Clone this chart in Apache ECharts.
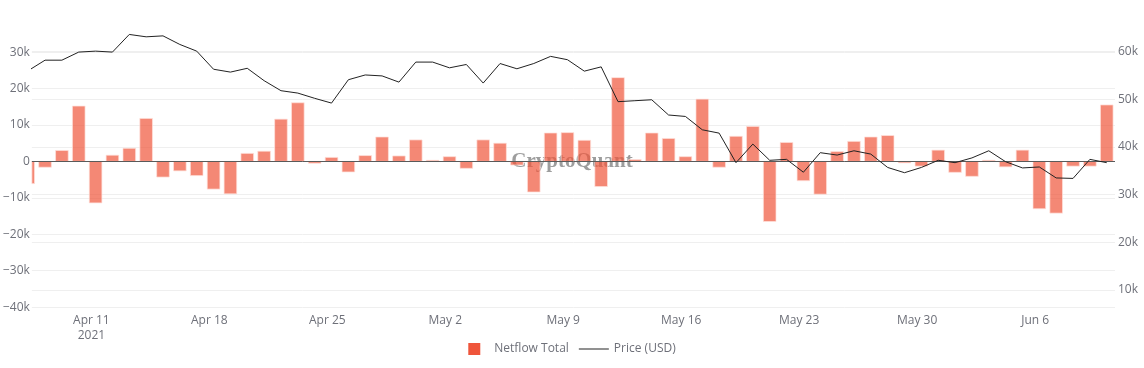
<!DOCTYPE html>
<html><head><meta charset="utf-8">
<script src="https://cdn.jsdelivr.net/npm/echarts@6/dist/echarts.min.js"></script>
<style>html,body{margin:0;padding:0;background:#fff}#c{width:1144px;height:368px}</style>
</head><body><div id="c"></div>
<script>
// ---- data ----
const startDate = '2021-04-07';
const netflow = [
  -6100, -1600, 3000, 15200, -11400, 1700, 3600, 11800, -4300, -2600,
  -3900, -7600, -8900, 2200, 2800, 11600, 16100, -500, 1100, -2900,
  1600, 6700, 1500, 5900, 300, 1300, -1900, 5900, 5000, -1000,
  -8400, 7800, 7900, 5800, -6900, 23000, 500, 7800, 6300, 1300,
  17100, -1600, 6900, 9600, -16500, 5200, -5300, -9000, 2700, 5500,
  6700, 7100, -400, -1300, 3100, -3000, -4100, 300, -1500, 3100,
  -13000, -14200, -1300, -1300, 15500
];
const price = [
  56000, 58200, 58200, 59900, 60100, 59900, 63600, 63100, 63300, 61500,
  60100, 56300, 55700, 56500, 53900, 51800, 51300, 50200, 49200, 54100,
  55100, 54900, 53600, 57800, 57800, 56600, 57300, 53400, 57500, 56400,
  57500, 59000, 58300, 55900, 56800, 49500, 49700, 49900, 46700, 46400,
  43600, 42900, 36700, 40600, 37200, 37400, 34700, 38800, 38300, 39200,
  38500, 35700, 34600, 35700, 37200, 36700, 37700, 39200, 36900, 35600,
  35800, 33500, 33400, 37400, 36700
];
const leftTicks = [-40000, -30000, -20000, -10000, 0, 10000, 20000, 30000];
const rightTicks = [10000, 20000, 30000, 40000, 50000, 60000];
const xTickDates = ['2021-04-11', '2021-04-18', '2021-04-25', '2021-05-02', '2021-05-09', '2021-05-16', '2021-05-23', '2021-05-30', '2021-06-06'];
const seriesNames = ['Netflow Total', 'Price (USD)'];

// ---- helpers ----
function mkDate(s, add) { const p = s.split('-').map(Number); return new Date(p[0], p[1] - 1, p[2] + (add || 0)); }
function key(d) { return d.getFullYear() + '-' + String(d.getMonth() + 1).padStart(2, '0') + '-' + String(d.getDate()).padStart(2, '0'); }
const dates = netflow.map((_, i) => mkDate(startDate, i));
const dateKeys = dates.map(key);
const xTickIdx = xTickDates.map(s => dateKeys.indexOf(s));
// date ticks sit at midnight; daily marks are drawn a quarter day later (as in the source chart)
const TICK_SHIFT = 0.25;
const xTickPos = xTickIdx.map(i => i - TICK_SHIFT);
const months = ['Jan','Feb','Mar','Apr','May','Jun','Jul','Aug','Sep','Oct','Nov','Dec'];
function kFmt(v) { if (v === 0) return '0'; const s = Math.abs(v / 1000) + 'k'; return v < 0 ? '\u2212' + s : s; }
const labelColor = '#6e7079';
const gridColor = '#efefef';
const font = '"Open Sans", sans-serif';

function renderBar(params, api) {
  const i = api.value(0), v = api.value(1);
  const top = api.coord([i, v]);
  const base = api.coord([i, 0]);
  const w = api.size([1, 0])[0] * 0.75;
  const cs = params.coordSys;
  const shape = echarts.graphic.clipRectByRect(
    { x: top[0] - w / 2, y: Math.min(top[1], base[1]), width: w, height: Math.abs(base[1] - top[1]) },
    { x: cs.x, y: cs.y, width: cs.width, height: cs.height });
  if (!shape) return null;
  return { type: 'rect', shape: shape,
    style: { fill: 'rgba(239,85,59,0.7)', stroke: 'rgba(255,225,220,0.7)', lineWidth: 1 } };
}

const chart = echarts.init(document.getElementById('c'), null, { renderer: 'canvas' });
chart.setOption({
  animation: false,
  backgroundColor: '#fff',
  textStyle: { fontFamily: font },
  grid: { left: 30, right: 29, top: 23, bottom: 58, containLabel: false },
  xAxis: {
    type: 'value',
    min: 0.22,
    max: dates.length - 1 + 0.49,
    axisLine: { show: false },
    axisTick: { show: false, customValues: xTickPos },
    splitLine: { show: false },
    axisLabel: {
      customValues: xTickPos,
      color: labelColor, fontSize: 12, fontFamily: font, margin: 3, lineHeight: 15,
      formatter: function (v) {
        const idx = Math.round(v + TICK_SHIFT);
        const d = dates[idx];
        let s = months[d.getMonth()] + ' ' + d.getDate();
        if (idx === xTickIdx[0]) s += '\n' + d.getFullYear();
        return s;
      }
    }
  },
  yAxis: [
    {
      type: 'value', position: 'left', min: -40800, max: 38000,
      axisLine: { show: false },
      axisTick: { show: false, customValues: leftTicks },
      splitLine: { show: true, lineStyle: { color: gridColor, width: 1 } },
      axisLabel: { customValues: leftTicks, formatter: kFmt, color: labelColor, fontSize: 12, fontFamily: font, margin: 2 }
    },
    {
      type: 'value', position: 'right', min: 5800, max: 66000,
      axisLine: { show: false },
      axisTick: { show: false, customValues: rightTicks },
      splitLine: { show: true, lineStyle: { color: gridColor, width: 1 } },
      axisLabel: { customValues: rightTicks, formatter: kFmt, color: labelColor, fontSize: 12, fontFamily: font, margin: 3 }
    }
  ],
  legend: {
    bottom: 8, left: 'center',
    itemWidth: 30, itemHeight: 12, itemGap: 10,
    textStyle: { color: labelColor, fontSize: 12, fontFamily: font },
    data: [
      { name: seriesNames[0], icon: 'path://M0,0H10V10H0Z', itemStyle: { color: '#EF553B', opacity: 1, borderWidth: 0 } },
      { name: seriesNames[1], icon: 'path://M0,0H30V1H0Z', itemStyle: { color: '#222', borderWidth: 0 } }
    ]
  },
  graphic: [{
    type: 'text', x: 572, y: 162, z: 1,
    style: { text: 'CryptoQuant', fontFamily: '"Liberation Serif", serif', fontSize: 21, fontWeight: 'bold',
      fill: 'rgba(60,60,60,0.5)', align: 'center', verticalAlign: 'middle' }
  }],
  series: [
    {
      name: seriesNames[0], type: 'custom', yAxisIndex: 0,
      renderItem: renderBar,
      encode: { x: 0, y: 1 },
      itemStyle: { color: '#EF553B' },
      data: netflow.map((v, i) => [i, v]),
      markLine: {
        silent: true, symbol: ['none', 'none'], label: { show: false },
        lineStyle: { color: '#5a5a5a', width: 1, type: 'solid' },
        data: [{ yAxis: 0 }]
      }
    },
    {
      name: seriesNames[1], type: 'line', yAxisIndex: 1, symbol: 'none', showSymbol: false, z: 5,
      data: price.map((v, i) => [i, v]),
      lineStyle: { color: '#222', width: 1 },
      itemStyle: { color: '#222' }
    }
  ]
});
</script>
</body></html>
